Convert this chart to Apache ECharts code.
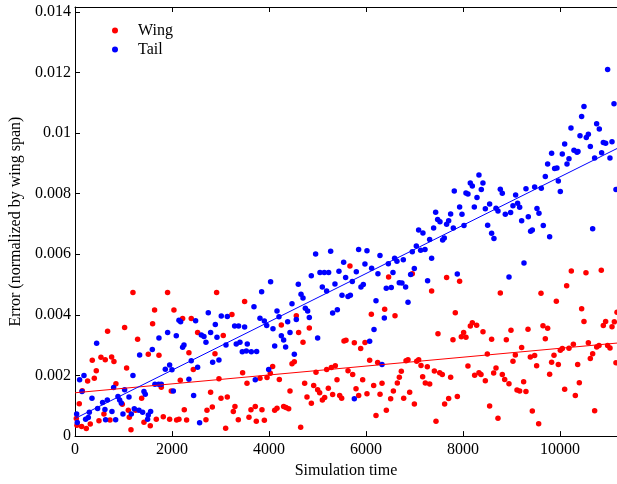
<!DOCTYPE html>
<html>
<head>
<meta charset="utf-8">
<script src="https://cdn.jsdelivr.net/npm/echarts@6/dist/echarts.min.js"></script>
<style>
  html, body { margin: 0; padding: 0; background: #fff; }
  #chart { width: 617px; height: 484px; }
</style>
</head>
<body>
<div id="chart"></div>
<script>
// wing error samples [simulation time, error]
const wing = [
  [1195,0.00474],[1909,0.00474],[2920,0.00474],[3497,0.00444],[1641,0.00416],[2040,0.00416],[2219,0.00388],[2397,0.00388],
  [3236,0.00401],[1600,0.00371],[1023,0.00358],[672,0.00346],[2528,0.00342],[3057,0.00332],[1291,0.00320],[2349,0.00275],
  [2886,0.00272],[1511,0.00270],[1731,0.00267],[535,0.00260],[624,0.00252],[755,0.00261],[803,0.00246],[356,0.00250],
  [1064,0.00225],[439,0.00216],[2439,0.00220],[398,0.00191],[260,0.00182],[3456,0.00209],[844,0.00173],[2171,0.00184],
  [2968,0.00189],[3546,0.00174],[1779,0.00161],[150,0.00150],[1985,0.00149],[2796,0.00145],[88,0.00107],[1374,0.00125],
  [3010,0.00125],[3140,0.00129],[975,0.00105],[1099,0.00085],[1250,0.00085],[2253,0.00087],[2721,0.00085],[2831,0.00096],
  [3298,0.00098],[3264,0.00081],[3628,0.00087],[3717,0.00098],[3587,0.00062],[597,0.00073],[494,0.00051],[27,0.00058],
  [40,0.00036],[137,0.00032],[233,0.00025],[315,0.00040],[721,0.00053],[1119,0.00062],[1154,0.00021],[1422,0.00046],
  [1552,0.00034],[1676,0.00056],[1820,0.00064],[1951,0.00056],[2095,0.00053],[2143,0.00056],[2301,0.00053],[2700,0.00054],
  [3106,0.00026],[3367,0.00054],[3738,0.00049],
  [4563,0.00397],[4254,0.00367],[4831,0.00357],[4611,0.00342],[4701,0.00310],[6110,0.00402],[6385,0.00419],[6598,0.00397],
  [5546,0.00314],[5587,0.00316],[5759,0.00308],[5979,0.00309],[5890,0.00289],[7484,0.00338],[6075,0.00250],[6240,0.00243],
  [4474,0.00239],[4522,0.00245],[4075,0.00230],[4027,0.00207],[3959,0.00193],[3814,0.00191],[4213,0.00187],[4969,0.00211],
  [5189,0.00220],[5285,0.00226],[5367,0.00232],[5629,0.00216],[5725,0.00203],[5402,0.00186],[5931,0.00186],[6728,0.00214],
  [6825,0.00249],[6866,0.00252],[7045,0.00247],[7086,0.00252],[7134,0.00233],[7264,0.00229],[7409,0.00215],[7519,0.00209],
  [7168,0.00196],[7223,0.00175],[7313,0.00172],[6687,0.00194],[6646,0.00175],[4735,0.00174],[4921,0.00167],[5003,0.00153],
  [5044,0.00143],[5223,0.00158],[4433,0.00149],[4783,0.00129],[4873,0.00108],[5100,0.00119],[5148,0.00127],[5312,0.00137],
  [5457,0.00134],[5498,0.00125],[5794,0.00156],[5849,0.00134],[6020,0.00140],[6158,0.00167],[6330,0.00174],[6289,0.00138],
  [6564,0.00149],[6508,0.00123],[6777,0.00125],[6900,0.00145],[6997,0.00106],[6419,0.00085],[6206,0.00068],[7443,0.00049],
  [3855,0.00087],[4117,0.00085],[4165,0.00092],[4302,0.00098],[4350,0.00094],[4405,0.00090],[3904,0.00052],[4653,0.00029],
  [8769,0.00472],[9608,0.00471],[9924,0.00445],[7841,0.00407],[10446,0.00420],[10494,0.00378],[11175,0.00409],[8151,0.00363],
  [8192,0.00374],[8281,0.00366],[8013,0.00342],[7965,0.00328],[8061,0.00326],[7793,0.00318],[8412,0.00344],[8590,0.00320],
  [8893,0.00318],[8989,0.00349],[9340,0.00353],[9649,0.00364],[9745,0.00356],[9697,0.00321],[10893,0.00365],[10941,0.00378],
  [11072,0.00361],[11120,0.00377],[8501,0.00271],[9209,0.00292],[9079,0.00268],[9030,0.00247],[9388,0.00261],[9477,0.00266],
  [9518,0.00232],[9876,0.00267],[9827,0.00244],[9965,0.00236],[10006,0.00283],[10048,0.00289],[10185,0.00290],[10275,0.00303],
  [10584,0.00308],[10673,0.00272],[10625,0.00256],[10756,0.00294],[10804,0.00299],[10982,0.00299],[11031,0.00291],[11154,0.00242],
  [10364,0.00236],[8102,0.00231],[7573,0.00203],[7745,0.00194],[8240,0.00201],[8329,0.00209],[8371,0.00203],[8460,0.00183],
  [8632,0.00208],[8680,0.00225],[8810,0.00203],[8859,0.00187],[8948,0.00173],[9250,0.00179],[9113,0.00152],[9168,0.00149],
  [9298,0.00147],[9786,0.00204],[10096,0.00155],[10398,0.00176],[10316,0.00134],[7704,0.00124],[7621,0.00106],[7883,0.00131],
  [8549,0.00099],[8721,0.00059],[9429,0.00083],[9560,0.00041],[10714,0.00084],
  [5669,0.00561],[6466,0.00525],[6954,0.00536],[7662,0.00523],[7353,0.00479],[7930,0.00511],[10137,0.00496],[10233,0.00545],
  [10535,0.00539],[10851,0.00547]
]

// tail error samples [simulation time, error]
const tail = [
  [3690,0.00427],[2748,0.00407],[3016,0.00396],[3140,0.00395],[2143,0.00382],[2178,0.00377],[2487,0.00381],[2893,0.00368],
  [3291,0.00363],[3373,0.00363],[3497,0.00360],[1910,0.00342],[2604,0.00334],[2659,0.00329],[2796,0.00342],[2927,0.00326],
  [1731,0.00324],[2088,0.00331],[2700,0.00310],[3113,0.00301],[3325,0.00304],[3401,0.00310],[3552,0.00304],[446,0.00306],
  [2247,0.00301],[2219,0.00293],[1594,0.00286],[1333,0.00268],[3449,0.00278],[3532,0.00281],[3635,0.00278],[3745,0.00279],
  [2397,0.00249],[2838,0.00244],[2968,0.00251],[1951,0.00235],[1862,0.00221],[1999,0.00219],[2528,0.00227],[1195,0.00200],
  [185,0.00200],[95,0.00186],[2349,0.00188],[3717,0.00186],[1648,0.00171],[1724,0.00171],[1779,0.00171],[796,0.00160],
  [1023,0.00153],[2027,0.00149],[144,0.00147],[1422,0.00147],[2446,0.00134],[350,0.00125],[886,0.00131],[920,0.00119],
  [1113,0.00129],[666,0.00119],[569,0.00111],[954,0.00109],[1449,0.00138],[466,0.00091],[295,0.00079],[762,0.00081],
  [617,0.00088],[1222,0.00090],[1319,0.00085],[1394,0.00079],[1559,0.00081],[989,0.00073],[1161,0.00073],[1511,0.00070],
  [34,0.00073],[219,0.00056],[274,0.00061],[631,0.00054],[838,0.00054],[47,0.00045],[1497,0.00056],[2569,0.00044],
  [4660,0.00468],[4701,0.00456],[5505,0.00465],[5629,0.00461],[5677,0.00465],[6206,0.00447],[6866,0.00442],[4474,0.00437],
  [4749,0.00422],[4797,0.00413],[4165,0.00413],[3814,0.00389],[3904,0.00380],[3952,0.00365],[4206,0.00394],[4385,0.00377],
  [4563,0.00385],[4831,0.00391],[5312,0.00406],[5409,0.00417],[6378,0.00390],[4082,0.00354],[4433,0.00342],[4254,0.00331],
  [4302,0.00317],[5003,0.00324],[6165,0.00352],[6075,0.00313],[4117,0.00297],[4343,0.00294],[4522,0.00270],
  [3993,0.00220],[6330,0.00236],[5759,0.00123],[3848,0.00476],[4033,0.00509],[4604,0.00501],
  [7820,0.00809],[7436,0.00739],[7745,0.00733],[7477,0.00715],[7525,0.00707],[7662,0.00699],[7704,0.00711],[7800,0.00687],
  [7394,0.00687],[7085,0.00680],[7174,0.00670],[7312,0.00649],[7614,0.00654],[7580,0.00647],[7037,0.00627],[7216,0.00616],
  [7126,0.00613],[6954,0.00608],[7353,0.00587],[5848,0.00616],[6020,0.00612],[5271,0.00610],[4961,0.00601],[6288,0.00596],
  [6590,0.00587],[6638,0.00577],[6769,0.00582],[6460,0.00569],[5978,0.00568],[5539,0.00574],[4872,0.00529],[5051,0.00540],
  [5140,0.00540],[5229,0.00540],[5442,0.00544],[5800,0.00542],[6116,0.00554],[6246,0.00536],[6556,0.00540],[6996,0.00553],
  [6920,0.00533],[5580,0.00523],[5099,0.00492],[5360,0.00502],[5717,0.00510],[5896,0.00492],[5944,0.00500],[5188,0.00479],
  [6418,0.00488],[6521,0.00490],[6686,0.00506],[6741,0.00505],[6817,0.00492],[7270,0.00513],
  [9827,0.00933],[10047,0.00931],[10288,0.00943],[10350,0.00937],[10858,0.00935],[11030,0.00918],[10714,0.00918],[10185,0.00915],
  [10144,0.00898],[9745,0.00898],[9889,0.00883],[9937,0.00885],[9697,0.00857],[9965,0.00842],[10006,0.00807],[11154,0.00814],
  [9614,0.00818],[9477,0.00822],[9298,0.00816],[8329,0.00862],[8150,0.00835],[8192,0.00825],[8411,0.00835],[8377,0.00814],
  [8061,0.00802],[8102,0.00799],[8288,0.00787],[8769,0.00815],[8810,0.00801],[9085,0.00796],[7930,0.00756],[7979,0.00732],
  [8233,0.00756],[8460,0.00750],[8549,0.00766],[8680,0.00752],[8721,0.00743],[8872,0.00732],[8982,0.00738],[9030,0.00760],
  [9126,0.00768],[9168,0.00755],[9525,0.00751],[9566,0.00735],[9209,0.00711],[9346,0.00724],[8020,0.00695],[8508,0.00696],
  [8590,0.00669],[8638,0.00652],[9394,0.00676],[9429,0.00680],[9655,0.00695],[9786,0.00658],[10673,0.00684],[9257,0.00571],
  [7882,0.00535],[8948,0.00525],
  [10982,0.01210],[11113,0.01097],[10494,0.01088],[10446,0.01055],[10755,0.01031],[10810,0.01013],[10226,0.01017],[10412,0.00991],
  [10542,0.00985],[10584,0.00996],[10096,0.00964],[10625,0.00956],[10893,0.00969],[10941,0.00966],[11072,0.00971],[10371,0.00939]
]

// linear fits, ends at the axis limits
const fitTime = [0, 11175]
const wingFit = [0.00143, 0.00307]
const tailFit = [0.00058, 0.00949]

const xMax = 11175
const yMax = 0.01416

const serif = 'Liberation Serif'
const black = '#000'

const chart = echarts.init(document.getElementById('chart'))

const baseX = {
  type: 'value',
  min: 0,
  max: xMax,
  interval: 2000,
  splitLine: { show: false },
  axisLine: { show: true, onZero: false, lineStyle: { color: black, width: 1 } },
  axisTick: { show: true, inside: true, length: 5, lineStyle: { color: black } }
}

const option = {
  animation: false,
  backgroundColor: '#fff',
  grid: { left: 75, right: 0, top: 7, bottom: 44 },
  legend: {
    orient: 'vertical',
    left: 107,
    top: 16,
    itemWidth: 6,
    itemHeight: 6,
    itemGap: 0,
    data: [
      { name: 'Wing', icon: 'circle' },
      { name: 'Tail', icon: 'circle' }
    ],
    textStyle: { fontFamily: serif, fontSize: 16, color: black, lineHeight: 19, padding: [0, 0, 0, 15] }
  },
  xAxis: [
    Object.assign({}, baseX, {
      position: 'bottom',
      name: 'Simulation time',
      nameLocation: 'middle',
      nameGap: 20,
      nameTextStyle: { fontFamily: serif, fontSize: 16, color: black },
      axisLabel: {
        fontFamily: serif, fontSize: 16, color: black, margin: 6, showMaxLabel: false,
        formatter: v => String(v)
      }
    }),
    Object.assign({}, baseX, {
      position: 'top',
      axisLabel: { show: false }
    })
  ],
  yAxis: {
    type: 'value',
    min: 0,
    max: yMax,
    interval: 0.002,
    splitLine: { show: false },
    axisLine: { show: true, lineStyle: { color: black, width: 1 } },
    axisTick: { show: true, inside: true, length: 5, lineStyle: { color: black } },
    axisLabel: {
      fontFamily: serif, fontSize: 16, color: black, margin: 4, showMaxLabel: false,
      formatter: v => String(parseFloat(v.toFixed(4)))
    },
    name: 'Error (normalized by wing span)',
    nameLocation: 'middle',
    nameGap: 49,
    nameTextStyle: { fontFamily: serif, fontSize: 16, color: black }
  },
  series: [
    {
      name: 'Wing',
      type: 'scatter',
      data: wing,
      symbolSize: 5.5,
      itemStyle: { color: '#ff0000', opacity: 1 }
    },
    {
      name: 'Tail',
      type: 'scatter',
      data: tail,
      symbolSize: 5.5,
      itemStyle: { color: '#0000ff', opacity: 1 }
    },
    {
      name: 'Wing fit',
      type: 'line',
      data: fitTime.map((t, i) => [t, wingFit[i]]),
      showSymbol: false,
      silent: true,
      lineStyle: { color: '#ff0000', width: 1 }
    },
    {
      name: 'Tail fit',
      type: 'line',
      data: fitTime.map((t, i) => [t, tailFit[i]]),
      showSymbol: false,
      silent: true,
      lineStyle: { color: '#0000ff', width: 1 }
    }
  ]
}

chart.setOption(option)
</script>
</body>
</html>
